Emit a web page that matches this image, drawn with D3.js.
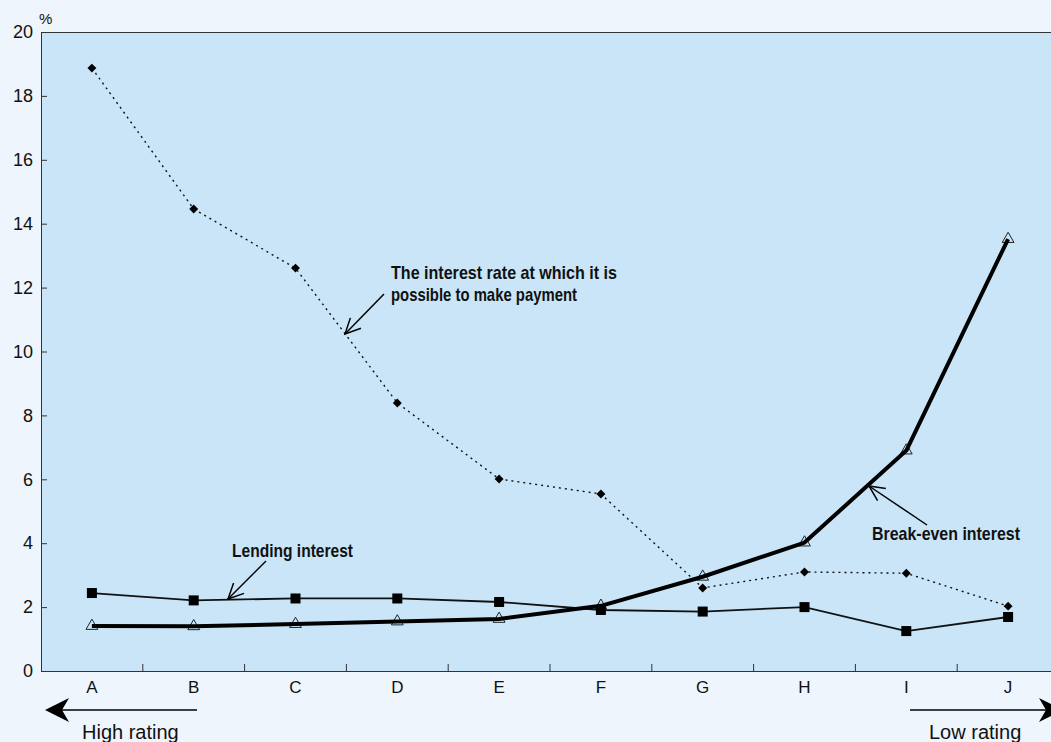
<!DOCTYPE html>
<html><head><meta charset="utf-8">
<script src="https://cdn.jsdelivr.net/npm/d3@7"></script>
<style>
html,body{margin:0;padding:0;background:#eef5fc;}
svg{display:block;}
</style></head>
<body>
<script>
const categories = ["A","B","C","D","E","F","G","H","I","J"];
const paymentRate = [18.87, 14.46, 12.61, 8.39, 6.01, 5.54, 2.6, 3.1, 3.06, 2.03];
const lendingRate = [2.44, 2.21, 2.27, 2.27, 2.16, 1.91, 1.86, 2.0, 1.25, 1.69];
const breakEven   = [1.41, 1.40, 1.47, 1.55, 1.63, 2.04, 2.95, 4.02, 6.9, 13.52];
const yTicks = [0,2,4,6,8,10,12,14,16,18,20];

(function(){
const W = 1051, H = 742;
const svg = d3.select("body").append("svg").attr("width", W).attr("height", H);
const pl = 41, pt = 32, pb = 671, pr = 1059;

const x = d3.scaleBand().domain(categories).range([pl, pr]).padding(0);
const y = d3.scaleLinear().domain([0,20]).range([pb, pt]);
const cx = c => x(c) + x.bandwidth()/2;

svg.append("rect").attr("x", pl).attr("y", pt).attr("width", pr-pl).attr("height", pb-pt)
  .attr("fill", "#c9e5f7");
svg.append("line").attr("x1", pl).attr("x2", pr).attr("y1", pt+0.5).attr("y2", pt+0.5)
  .attr("stroke", "#333").attr("stroke-width", 1);

const font = "'Liberation Sans', Arial, sans-serif";
const yAxis = svg.append("g").attr("transform", `translate(${pl},0)`)
  .call(d3.axisLeft(y).tickValues(yTicks).tickSize(-6).tickPadding(8));
yAxis.select(".domain").attr("stroke", "#333");
yAxis.selectAll(".tick line").attr("stroke", "#333");
yAxis.selectAll("text").attr("font-family", font).attr("font-size", 18).attr("fill", "#111");

const xAxis = svg.append("g").attr("transform", `translate(0,${pb})`)
  .call(d3.axisBottom(x).tickSize(0).tickPadding(10));
xAxis.select(".domain").attr("stroke", "#333");
xAxis.selectAll("text").attr("font-family", font).attr("font-size", 17).attr("fill", "#111");
svg.append("g").selectAll("line").data(categories.slice(1)).join("line")
  .attr("x1", d => x(d)).attr("x2", d => x(d)).attr("y1", pb).attr("y2", pb-7)
  .attr("stroke", "#333");

svg.append("text").attr("x", 39).attr("y", 24).attr("font-family", font).attr("font-size", 15)
  .attr("fill", "#111").text("%");

const line = d3.line().x((d,i) => cx(categories[i])).y(d => y(d));

svg.append("path").datum(paymentRate).attr("d", line).attr("fill", "none")
  .attr("stroke", "#111").attr("stroke-width", 1.4).attr("stroke-dasharray", "2,4");
svg.append("path").datum(lendingRate).attr("d", line).attr("fill", "none")
  .attr("stroke", "#111").attr("stroke-width", 1.8);
svg.append("g").selectAll("path").data(breakEven).join("path")
  .attr("d", d3.symbol().type(d3.symbolTriangle).size(60))
  .attr("transform", (d,i) => `translate(${cx(categories[i])},${y(d)})`)
  .attr("fill", "#c9e5f7").attr("stroke", "#222").attr("stroke-width", 1);
svg.append("path").datum(breakEven).attr("d", line).attr("fill", "none")
  .attr("stroke", "#000").attr("stroke-width", 4).attr("stroke-linejoin", "round");

svg.append("g").selectAll("path").data(paymentRate).join("path")
  .attr("d", d3.symbol().type(d3.symbolSquare).size(40))
  .attr("transform", (d,i) => `translate(${cx(categories[i])},${y(d)}) rotate(45)`)
  .attr("fill", "#000");
svg.append("g").selectAll("rect").data(lendingRate).join("rect")
  .attr("x", (d,i) => cx(categories[i]) - 5).attr("y", d => y(d) - 5)
  .attr("width", 10).attr("height", 10).attr("fill", "#000");

function arrow(x1,y1,x2,y2,w,head){
  svg.append("line").attr("x1",x1).attr("y1",y1).attr("x2",x2).attr("y2",y2)
    .attr("stroke","#000").attr("stroke-width",w||1.5);
  const a = Math.atan2(y1-y2, x1-x2), L = head||17, s = 0.45;
  const p = [[x2 + L*Math.cos(a+s), y2 + L*Math.sin(a+s)],[x2,y2],[x2 + L*Math.cos(a-s), y2 + L*Math.sin(a-s)]];
  svg.append("path").attr("d", d3.line()(p)).attr("fill","none").attr("stroke","#000").attr("stroke-width",w||1.5);
}
function label(tx,ty,lines,widths){
  lines.forEach((l,i)=>{
    svg.append("text").attr("x",tx).attr("y",ty + i*22.5).attr("font-family",font)
      .attr("font-weight","bold").attr("font-size",18.5).attr("fill","#111")
      .attr("textLength", widths[i]).attr("lengthAdjust","spacingAndGlyphs").text(l);
  });
}
label(391, 278.5, ["The interest rate at which it is", "possible to make payment"], [226, 186]);
arrow(384, 294, 345, 334);
label(232, 557, ["Lending interest"], [121]);
arrow(266, 561, 228, 599);
label(872, 540, ["Break-even interest"], [148]);
arrow(927, 525, 869, 486);

svg.append("line").attr("x1",197).attr("x2",62).attr("y1",710).attr("y2",710).attr("stroke","#000").attr("stroke-width",1.5);
svg.append("path").attr("d","M45,710 L69,698 L62,710 L69,722 Z").attr("fill","#000");
svg.append("line").attr("x1",910).attr("x2",1046).attr("y1",710).attr("y2",710).attr("stroke","#000").attr("stroke-width",1.5);
svg.append("path").attr("d","M1063,710 L1039,698 L1046,710 L1039,722 Z").attr("fill","#000");
svg.append("text").attr("x",82).attr("y",739).attr("font-family",font).attr("font-size",20).attr("fill","#111").text("High rating");
svg.append("text").attr("x",929).attr("y",739).attr("font-family",font).attr("font-size",20).attr("fill","#111").text("Low rating");
})();
</script>
</body></html>
